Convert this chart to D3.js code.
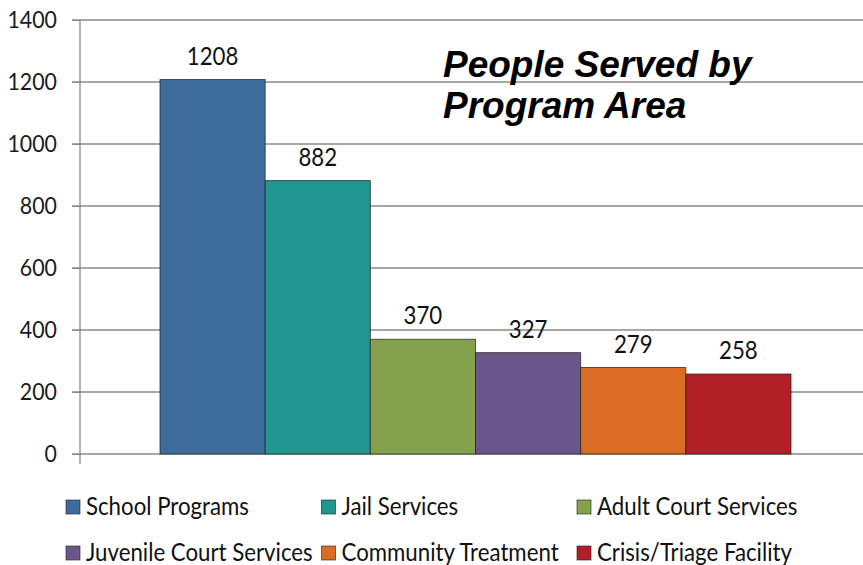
<!DOCTYPE html>
<html>
<head>
<meta charset="utf-8">
<script src="https://cdn.jsdelivr.net/npm/d3@7"></script>
<style>
  body { margin: 0; background: #fff; }
  svg text { font-family: Lato, "Open Sans", sans-serif; }
  svg text.title { font-family: "Liberation Sans", Arial, sans-serif; font-weight: bold; font-style: italic; }
</style>
</head>
<body>
<script>

// chart data
var programs = ["School Programs", "Jail Services", "Adult Court Services", "Juvenile Court Services", "Community Treatment", "Crisis/Triage Facility"]
var served = [1208, 882, 370, 327, 279, 258]
var colors = ["#3d6c9c", "#21958f", "#84a24c", "#6b568c", "#db6c26", "#b11f27"]
var yTicks = [0, 200, 400, 600, 800, 1000, 1200, 1400]
var titleLines = ["People Served by", "Program Area"]

window.onload = draw

// squeeze text horizontally so Lato looks like the narrow original font
var squeeze = 0.89

function draw()
{
  var width = 863, height = 565
  var svg = d3.select("body").append("svg").attr("width", width).attr("height", height)

  var y = d3.scaleLinear().domain([0, 1400]).range([454, 20])
  var x = d3.scaleBand().domain(programs).range([160, 791]).padding(0)

  // gridlines
  svg.append("g").selectAll("line").data(yTicks).enter().append("line")
     .attr("x1", 72).attr("x2", width)
     .attr("y1", function(d) { return y(d) }).attr("y2", function(d) { return y(d) })
     .attr("stroke", "#8a8a8a").attr("stroke-width", 1.3)

  // y axis
  var axis = svg.append("g").attr("transform", "translate(80,0)")
     .call(d3.axisLeft(y).tickValues(yTicks).tickSize(8).tickPadding(15).tickFormat(d3.format("d")))
  axis.select(".domain").remove()
  axis.selectAll("line").attr("stroke", "#8a8a8a")
  axis.selectAll("text").attr("font-size", 24).attr("fill", "#1a1a1a")
      .attr("x", 0).attr("transform", "translate(-23,0) scale(" + squeeze + ",1)")
  svg.append("line").attr("x1", 80).attr("x2", 80).attr("y1", y(1400)).attr("y2", y(0) + 10)
     .attr("stroke", "#8a8a8a").attr("stroke-width", 1.3)

  // bars
  svg.append("g").selectAll("rect").data(programs).enter().append("rect")
     .attr("x", function(d) { return x(d) })
     .attr("width", x.bandwidth())
     .attr("y", function(d, i) { return y(served[i]) })
     .attr("height", function(d, i) { return y(0) - y(served[i]) })
     .attr("fill", function(d, i) { return colors[i] })
     .attr("stroke", "rgba(30,30,30,0.7)").attr("stroke-width", 1)

  // value labels
  svg.append("g").selectAll("text").data(programs).enter().append("text")
     .attr("transform", function(d, i) { return "translate(" + (x(d) + x.bandwidth() / 2) + "," + (y(served[i]) - 15) + ") scale(" + squeeze + ",1)" })
     .attr("text-anchor", "middle").attr("font-size", 25).attr("fill", "#111")
     .text(function(d, i) { return served[i] })

  // title
  svg.append("g").selectAll("text").data(titleLines).enter().append("text")
     .attr("class", "title")
     .attr("x", 443).attr("y", function(d, i) { return 77 + i * 41 })
     .attr("font-size", 37).attr("fill", "#000")
     .text(function(d) { return d })

  // legend, 3 columns x 2 rows
  var legend = svg.append("g").selectAll("g").data(programs).enter().append("g")
     .attr("transform", function(d, i) { return "translate(" + (66 + (i % 3) * 255.5) + "," + (500 + Math.floor(i / 3) * 46) + ")" })
  legend.append("rect").attr("width", 14).attr("height", 14)
     .attr("fill", function(d, i) { return colors[i] })
     .attr("stroke", "rgba(30,30,30,0.6)").attr("stroke-width", 1)
  legend.append("text").attr("transform", "translate(20,15) scale(" + squeeze + ",1)")
     .attr("font-size", 25).attr("fill", "#111")
     .text(function(d) { return d })
}
</script>
</body>
</html>
